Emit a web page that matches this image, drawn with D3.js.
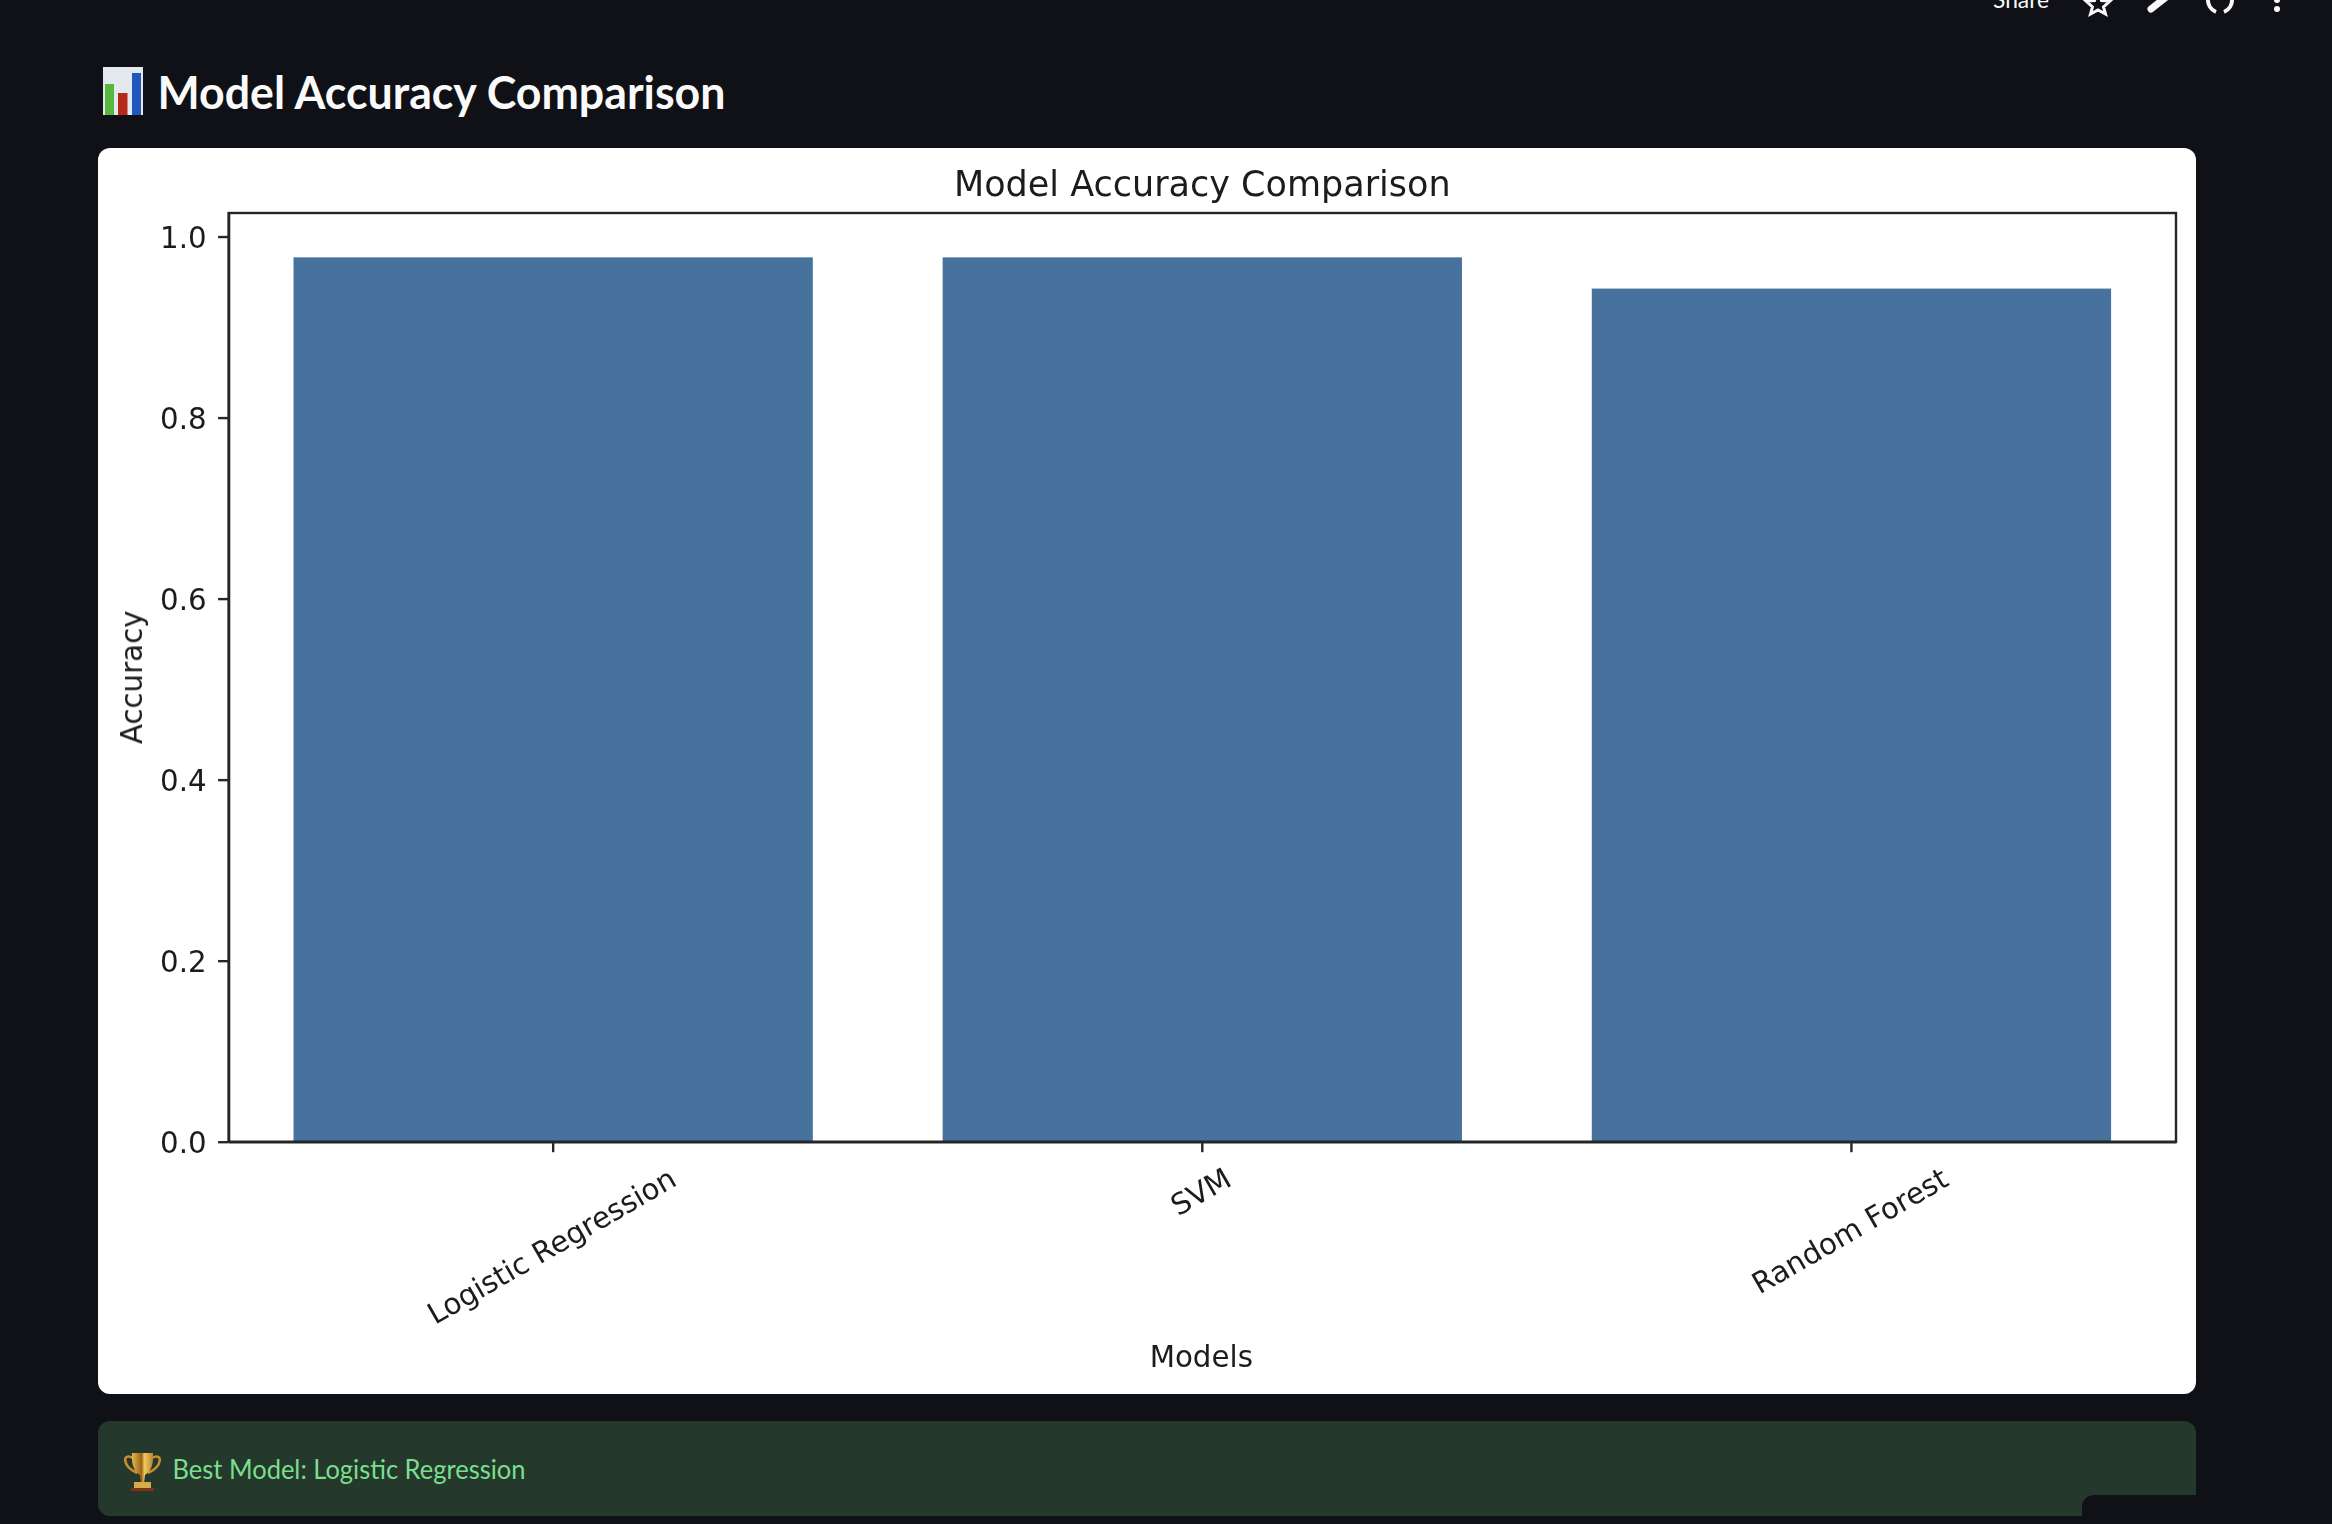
<!DOCTYPE html>
<html>
<head>
<meta charset="utf-8">
<script src="https://cdn.jsdelivr.net/npm/d3@7"></script>
<style>
  html, body { margin: 0; padding: 0; background: #0f1116; overflow: hidden; }
  svg { display: block; }
  .axis text { font-family: "DejaVu Sans"; font-size: 29.3px; fill: #1c1c1c; }
  .axis line, .axis path { stroke: #262626; stroke-width: 2.4px; }
  .chartText { font-family: "DejaVu Sans"; fill: #1c1c1c; text-anchor: middle; }
  .pageText { font-family: Lato, "Noto Sans"; }
  #figure { filter: blur(0.6px); }
</style>
</head>
<body>
<div id="chart"></div>
<script>
const WIDTH = 2332;
const HEIGHT = 1524;

const BG_COLOR = '#0f1116';
const BAR_COLOR = '#47729e';

//values
const models = ['Logistic Regression', 'SVM', 'Random Forest'];
const accuracy = [0.977, 0.977, 0.9425];
const yTicks = [0.0, 0.2, 0.4, 0.6, 0.8, 1.0];
const yMax = 1.026;

//plot box inside the white card
const plot = {left: 228.6, right: 2176, top: 213, bottom: 1141.7};

var svg = d3.select('#chart')
    .append('svg')
    .attr('width', WIDTH)
    .attr('height', HEIGHT);

//gold shading for the trophy
var cupGradient = svg.append('defs').append('linearGradient').attr('id', 'cupGold');
cupGradient.append('stop').attr('offset', '0%').attr('stop-color', '#e8b84a');
cupGradient.append('stop').attr('offset', '45%').attr('stop-color', '#9a6518');
cupGradient.append('stop').attr('offset', '60%').attr('stop-color', '#f0c860');
cupGradient.append('stop').attr('offset', '100%').attr('stop-color', '#b8832a');

//page title with the bar chart emoji
var titleIcon = svg.append('g').attr('id', 'titleIcon');
titleIcon.append('rect').attr('x', 103).attr('y', 67).attr('width', 40).attr('height', 48).attr('fill', '#e4e9f0');
titleIcon.append('rect').attr('x', 105).attr('y', 84).attr('width', 9).attr('height', 31).attr('fill', '#58b83e');
titleIcon.append('rect').attr('x', 118).attr('y', 93).attr('width', 9.5).attr('height', 22).attr('fill', '#b5281a');
titleIcon.append('rect').attr('x', 132).attr('y', 73).attr('width', 9).attr('height', 42).attr('fill', '#1f57bd');

svg.append('text')
    .attr('class', 'pageText')
    .attr('x', 157.5)
    .attr('y', 109)
    .attr('fill', '#fafafa')
    .attr('font-size', 45)
    .attr('font-weight', 700)
    .attr('textLength', 568)
    .attr('lengthAdjust', 'spacingAndGlyphs')
    .text('Model Accuracy Comparison');

//toolbar cut off by the top of the screenshot
svg.append('text')
    .attr('class', 'pageText')
    .attr('x', 1993)
    .attr('y', 8)
    .attr('fill', '#fafafa')
    .attr('font-size', 24)
    .attr('textLength', 56)
    .attr('lengthAdjust', 'spacingAndGlyphs')
    .text('Share');

var toolbar = svg.append('g').attr('id', 'toolbar');
toolbar.append('path')
    .attr('d', 'M2098,-9L2101.5,0.5L2110,1L2103.5,7L2105.5,14L2098,10L2090.5,14L2092.5,7L2086,1L2094.5,0.5Z')
    .attr('fill', 'none').attr('stroke', '#fafafa').attr('stroke-width', 3);
toolbar.append('path')
    .attr('d', 'M2151,9L2165,-2')
    .attr('stroke', '#fafafa').attr('stroke-width', 7).attr('stroke-linecap', 'round');
toolbar.append('path')
    .attr('d', 'M2208,-1A13,13 0 0 0 2216,12M2224,12A13,13 0 0 0 2232,-1')
    .attr('fill', 'none').attr('stroke', '#fafafa').attr('stroke-width', 4);
toolbar.append('circle').attr('cx', 2277).attr('cy', 0).attr('r', 3).attr('fill', '#fafafa');
toolbar.append('circle').attr('cx', 2277).attr('cy', 9).attr('r', 3).attr('fill', '#fafafa');

//white card holding the figure
svg.append('rect')
    .attr('x', 98)
    .attr('y', 148)
    .attr('width', 2098)
    .attr('height', 1246)
    .attr('rx', 12)
    .attr('fill', '#ffffff');

//the figure is an upscaled png in the original, so it is slightly soft
var figure = svg.append('g').attr('id', 'figure');

var x = d3.scaleBand()
    .domain(models)
    .range([plot.left, plot.right])
    .paddingInner(0.2)
    .paddingOuter(0.1);

var y = d3.scaleLinear()
    .domain([0, yMax])
    .range([plot.bottom, plot.top]);

//bars
figure.append('g').attr('id', 'bars')
    .selectAll('rect')
    .data(models)
    .enter()
    .append('rect')
    .attr('x', function(d) { return x(d); })
    .attr('y', function(d, i) { return y(accuracy[i]); })
    .attr('width', x.bandwidth())
    .attr('height', function(d, i) { return y(0) - y(accuracy[i]); })
    .attr('fill', BAR_COLOR);

//axes
var yAxis = figure.append('g')
    .attr('class', 'axis')
    .attr('transform', `translate(${plot.left}, 0)`)
    .call(d3.axisLeft(y)
        .tickValues(yTicks)
        .tickFormat(d3.format('.1f'))
        .tickSize(10.5)
        .tickSizeOuter(0)
        .tickPadding(11.5));

yAxis.selectAll('.tick text').attr('dy', '0.36em');

var xAxis = figure.append('g')
    .attr('class', 'axis')
    .attr('transform', `translate(0, ${plot.bottom})`)
    .call(d3.axisBottom(x)
        .tickSize(10.5)
        .tickSizeOuter(0));

//rotate x labels by 30 degrees, keeping the top of the rotated box level
var labelTop = 19.5;
var labelHeight = 34;
xAxis.selectAll('.tick text')
    .attr('text-anchor', 'middle')
    .attr('dominant-baseline', 'central')
    .attr('dy', 0)
    .attr('y', 0)
    .attr('transform', function() {
        var len = this.getComputedTextLength();
        var box = len * Math.sin(Math.PI / 6) + labelHeight * Math.cos(Math.PI / 6);
        return `translate(-1.5, ${labelTop + box / 2}) rotate(-30)`;
    });

//frame around the plot
figure.append('rect')
    .attr('x', plot.left)
    .attr('y', plot.top)
    .attr('width', plot.right - plot.left)
    .attr('height', plot.bottom - plot.top)
    .attr('fill', 'none')
    .attr('stroke', '#262626')
    .attr('stroke-width', 2.4);

//figure texts
figure.append('text')
    .attr('class', 'chartText')
    .attr('x', (plot.left + plot.right) / 2)
    .attr('y', 196)
    .attr('font-size', 35)
    .text('Model Accuracy Comparison');

figure.append('text')
    .attr('class', 'chartText')
    .attr('x', (plot.left + plot.right) / 2 - 1)
    .attr('y', 1366.5)
    .attr('font-size', 29.3)
    .text('Models');

figure.append('text')
    .attr('class', 'chartText')
    .attr('transform', `translate(142, ${(plot.top + plot.bottom) / 2}) rotate(-90)`)
    .attr('font-size', 29.3)
    .text('Accuracy');

//green success box
svg.append('rect')
    .attr('x', 98)
    .attr('y', 1421)
    .attr('width', 2098)
    .attr('height', 95)
    .attr('rx', 12)
    .attr('fill', '#24382b');

//trophy emoji
var trophy = svg.append('g').attr('id', 'trophy');
trophy.append('path')
    .attr('d', 'M133,1458C122,1452 122,1466 137,1473M152,1458C163,1452 163,1466 148,1473')
    .attr('fill', 'none').attr('stroke', '#c2902f').attr('stroke-width', 2.6);
trophy.append('path')
    .attr('d', 'M132,1453L153,1453C154,1466 150,1472 145,1475L144,1483L141,1483L140,1475C135,1472 131,1466 132,1453Z')
    .attr('fill', 'url(#cupGold)');
trophy.append('rect').attr('x', 134).attr('y', 1482).attr('width', 17).attr('height', 6).attr('fill', '#d8aa4a');
trophy.append('rect').attr('x', 131).attr('y', 1488).attr('width', 23).attr('height', 3).attr('fill', '#7e3414');

svg.append('text')
    .attr('class', 'pageText')
    .attr('x', 172.5)
    .attr('y', 1478.5)
    .attr('fill', '#7ade8e')
    .attr('font-size', 26)
    .attr('textLength', 353)
    .attr('lengthAdjust', 'spacingAndGlyphs')
    .text('Best Model: Logistic Regression');

//corner of the floating streamlit badge over the green box
svg.append('path')
    .attr('d', 'M2082,1524L2082,1507A12,12 0 0 1 2094,1495L2196,1495L2196,1524Z')
    .attr('fill', BG_COLOR);
</script>
</body>
</html>
